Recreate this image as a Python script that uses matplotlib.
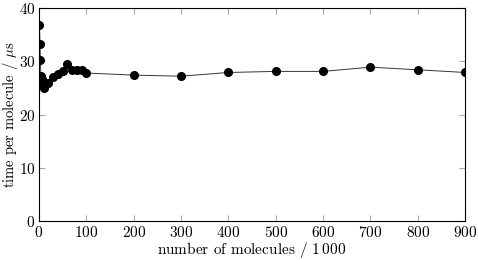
import numpy as np
import matplotlib
matplotlib.use("Agg")
import matplotlib.pyplot as plt

plt.rcParams['font.family'] = 'serif'
plt.rcParams['font.serif'] = ['cmr10']
plt.rcParams['mathtext.fontset'] = 'cm'
plt.rcParams['axes.formatter.use_mathtext'] = True
plt.rcParams['font.size'] = 11

# molecules (thousands) vs time per molecule (microseconds)
n_molecules = [1, 2, 3, 4, 5, 6, 7, 8, 9, 10, 20, 30, 40, 50, 60, 70, 80, 90, 100,
               200, 300, 400, 500, 600, 700, 800, 900]
time_us = [36.9, 33.3, 30.2, 27.2, 26.4, 25.8, 26.6, 25.3, 25.5, 24.9, 26.0, 27.1, 27.6, 28.2,
           29.4, 28.3, 28.3, 28.3, 27.8, 27.4, 27.2, 27.9, 28.1, 28.1, 28.9, 28.4, 27.9]

fig = plt.figure(figsize=(4.78, 2.6), dpi=100)
ax = fig.add_axes([0.0816, 0.15, 0.8914, 0.819])

ax.plot(n_molecules, time_us, color='#333333', lw=0.7,
        marker='o', ms=5.5, mfc='black', mec='black')

ax.set_xlim(0, 900)
ax.set_ylim(0, 40)
ax.set_xticks(np.arange(0, 901, 100))
ax.set_yticks(np.arange(0, 41, 10))
ax.tick_params(direction='in', length=4, color='#aaaaaa', top=True, right=True, pad=3)
ax.tick_params(axis='y', pad=2.5)
for s in ax.spines.values():
    s.set_linewidth(0.8)

ax.set_xlabel(r'number of molecules / 1$\,$000', va='center')
ax.set_ylabel(r'time per molecule / $\mu$s', va='center', fontsize=10.5)
ax.xaxis.set_label_coords(0.5, -0.137)
ax.yaxis.set_label_coords(-0.068, 0.5)

fig.savefig('out.png', dpi=100)
